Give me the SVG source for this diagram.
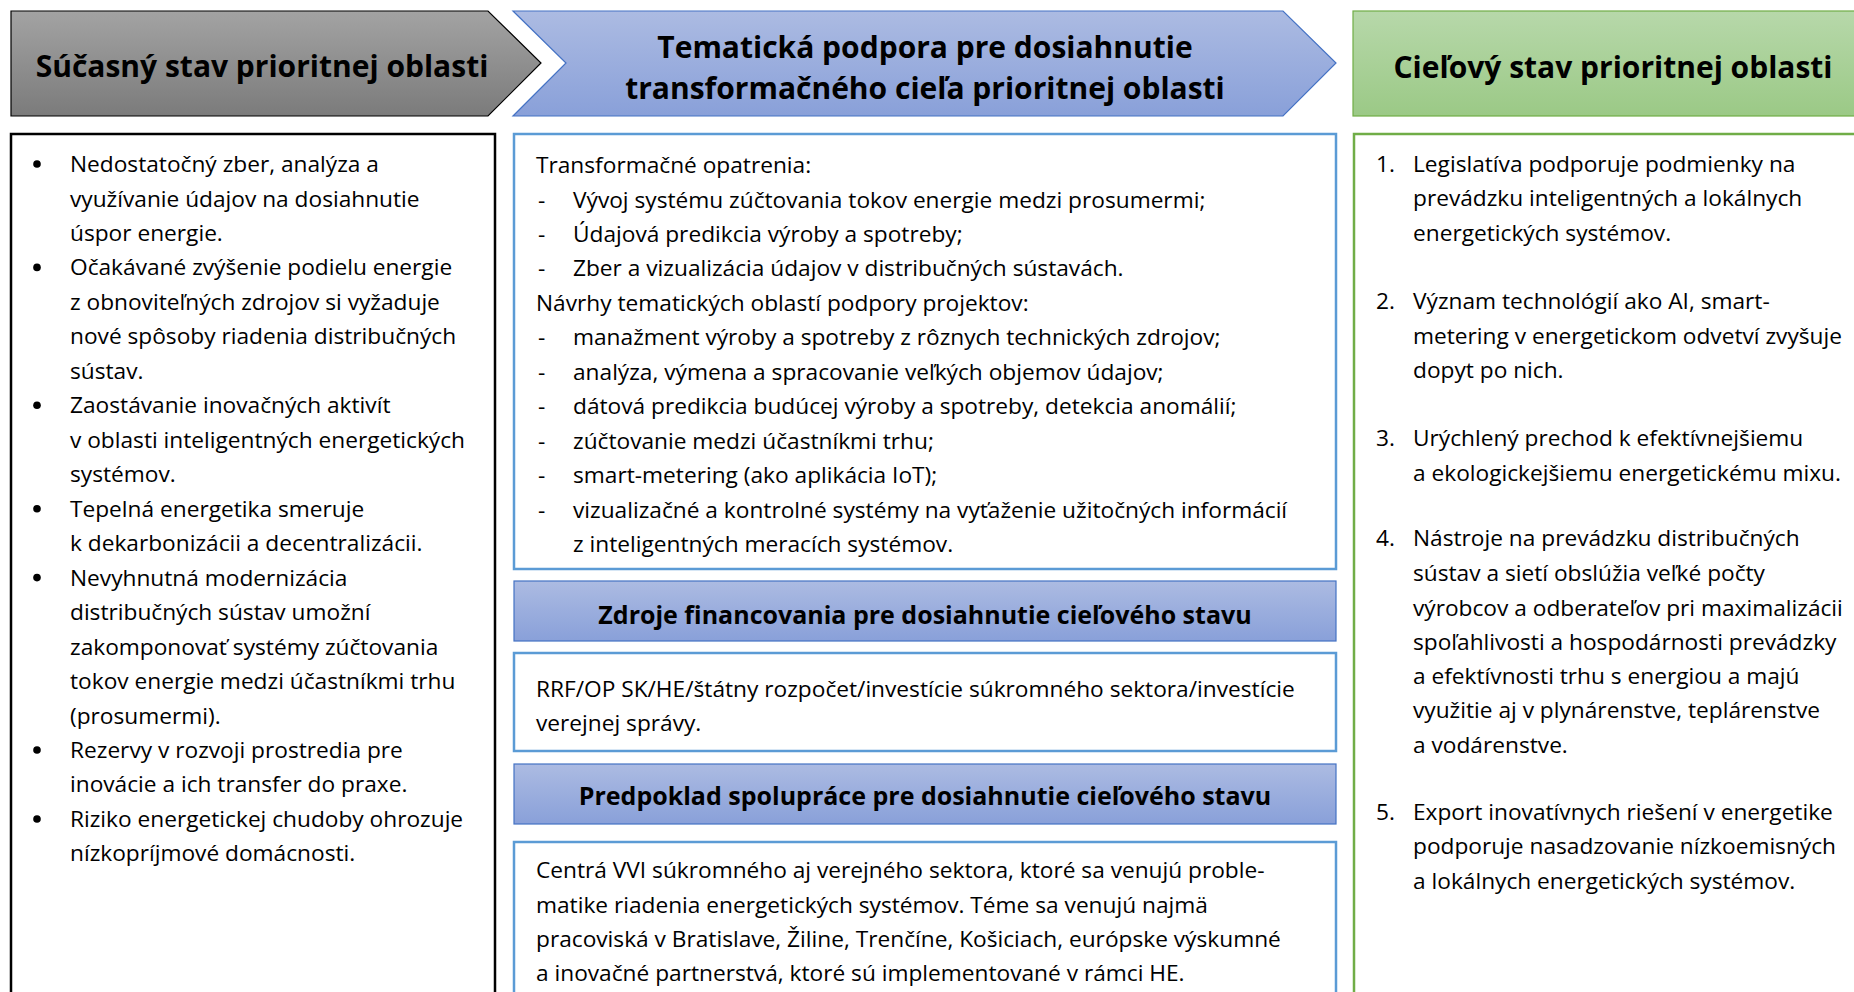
<svg xmlns="http://www.w3.org/2000/svg" width="1854" height="992" viewBox="0 0 1854 992">
<defs>
<linearGradient id="gGray" x1="0" y1="0" x2="0" y2="1"><stop offset="0" stop-color="#a3a3a3"/><stop offset="1" stop-color="#7b7b7b"/></linearGradient>
<linearGradient id="gBlue" x1="0" y1="0" x2="0" y2="1"><stop offset="0" stop-color="#acbbe2"/><stop offset="1" stop-color="#89a0d9"/></linearGradient>
<linearGradient id="gGreen" x1="0" y1="0" x2="0" y2="1"><stop offset="0" stop-color="#b7d8aa"/><stop offset="1" stop-color="#9bc986"/></linearGradient>
<style>
.t{font-family:"Open Sans","Noto Sans","Liberation Sans",sans-serif;font-size:22.7px;fill:#000}
.h{font-family:"Open Sans","Noto Sans","Liberation Sans",sans-serif;font-weight:bold;fill:#000;text-anchor:middle}
.box{fill:#fff;stroke-width:2.5}
</style>
</defs>
<rect width="1854" height="992" fill="#fff"/>

<g id="head-current">
<path d="M11,11 H488 L541,63 L488,116 H11 Z" fill="url(#gGray)" stroke="#000" stroke-width="1.2"/>
<text class="h" x="262" y="76.5" font-size="30">Súčasný stav prioritnej oblasti</text>
</g>

<g id="head-support">
<path d="M513,11 H1283 L1336,63 L1283,116 H513 L566,63 Z" fill="url(#gBlue)" stroke="#4472c4" stroke-width="1.2"/>
<text class="h" x="925" y="57.5" font-size="30">Tematická podpora pre dosiahnutie</text>
<text class="h" x="925" y="98.5" font-size="30">transformačného cieľa prioritnej oblasti</text>
</g>

<g id="head-target">
<rect x="1353" y="11" width="520" height="105" fill="url(#gGreen)" stroke="#70ad47" stroke-width="1.2"/>
<text class="h" x="1613" y="77.5" font-size="30">Cieľový stav prioritnej oblasti</text>
</g>

<g id="box-current">
<rect class="box" x="11" y="134" width="484" height="880" stroke="#000"/>
<g fill="#000">
<circle cx="37" cy="164" r="3.8"/><circle cx="37" cy="267.4" r="3.8"/><circle cx="37" cy="405.3" r="3.8"/><circle cx="37" cy="508.7" r="3.8"/><circle cx="37" cy="577.6" r="3.8"/><circle cx="37" cy="750" r="3.8"/><circle cx="37" cy="819" r="3.8"/>
</g>
<text class="t" x="70" y="172">Nedostatočný zber, analýza a</text>
<text class="t" x="70" y="206.5">využívanie údajov na dosiahnutie</text>
<text class="t" x="70" y="240.9">úspor energie.</text>
<text class="t" x="70" y="275.4">Očakávané zvýšenie podielu energie</text>
<text class="t" x="70" y="309.9">z obnoviteľných zdrojov si vyžaduje</text>
<text class="t" x="70" y="344.4">nové spôsoby riadenia distribučných</text>
<text class="t" x="70" y="378.8">sústav.</text>
<text class="t" x="70" y="413.3">Zaostávanie inovačných aktivít</text>
<text class="t" x="70" y="447.8">v oblasti inteligentných energetických</text>
<text class="t" x="70" y="482.2">systémov.</text>
<text class="t" x="70" y="516.7">Tepelná energetika smeruje</text>
<text class="t" x="70" y="551.2">k dekarbonizácii a decentralizácii.</text>
<text class="t" x="70" y="585.6">Nevyhnutná modernizácia</text>
<text class="t" x="70" y="620.1">distribučných sústav umožní</text>
<text class="t" x="70" y="654.6">zakomponovať systémy zúčtovania</text>
<text class="t" x="70" y="689">tokov energie medzi účastníkmi trhu</text>
<text class="t" x="70" y="723.5">(prosumermi).</text>
<text class="t" x="70" y="758">Rezervy v rozvoji prostredia pre</text>
<text class="t" x="70" y="792.4">inovácie a ich transfer do praxe.</text>
<text class="t" x="70" y="826.9">Riziko energetickej chudoby ohrozuje</text>
<text class="t" x="70" y="861.4">nízkopríjmové domácnosti.</text>
</g>

<g id="box-measures">
<rect class="box" x="514" y="134" width="822" height="435" stroke="#5b9bd5"/>
<text class="t" x="536" y="173">Transformačné opatrenia:</text>
<text class="t" x="538" y="207.5">-</text><text class="t" x="573" y="207.5">Vývoj systému zúčtovania tokov energie medzi prosumermi;</text>
<text class="t" x="538" y="242">-</text><text class="t" x="573" y="242">Údajová predikcia výroby a spotreby;</text>
<text class="t" x="538" y="276.4">-</text><text class="t" x="573" y="276.4">Zber a vizualizácia údajov v distribučných sústavách.</text>
<text class="t" x="536" y="310.9">Návrhy tematických oblastí podpory projektov:</text>
<text class="t" x="538" y="345.4">-</text><text class="t" x="573" y="345.4">manažment výroby a spotreby z rôznych technických zdrojov;</text>
<text class="t" x="538" y="379.8">-</text><text class="t" x="573" y="379.8">analýza, výmena a spracovanie veľkých objemov údajov;</text>
<text class="t" x="538" y="414.3">-</text><text class="t" x="573" y="414.3">dátová predikcia budúcej výroby a spotreby, detekcia anomálií;</text>
<text class="t" x="538" y="448.8">-</text><text class="t" x="573" y="448.8">zúčtovanie medzi účastníkmi trhu;</text>
<text class="t" x="538" y="483.2">-</text><text class="t" x="573" y="483.2">smart-metering (ako aplikácia IoT);</text>
<text class="t" x="538" y="517.7">-</text><text class="t" x="573" y="517.7">vizualizačné a kontrolné systémy na vyťaženie užitočných informácií</text>
<text class="t" x="573" y="552.2">z inteligentných meracích systémov.</text>
</g>

<g id="head-funding">
<rect x="514" y="581" width="822" height="60" fill="url(#gBlue)" stroke="#4472c4" stroke-width="1.2"/>
<text class="h" x="925" y="624" font-size="25">Zdroje financovania pre dosiahnutie cieľového stavu</text>
</g>

<g id="box-funding">
<rect class="box" x="514" y="653" width="822" height="98" stroke="#5b9bd5"/>
<text class="t" x="536" y="697">RRF/OP SK/HE/štátny rozpočet/investície súkromného sektora/investície</text>
<text class="t" x="536" y="731">verejnej správy.</text>
</g>

<g id="head-cooperation">
<rect x="514" y="764" width="822" height="60" fill="url(#gBlue)" stroke="#4472c4" stroke-width="1.2"/>
<text class="h" x="925" y="805" font-size="25">Predpoklad spolupráce pre dosiahnutie cieľového stavu</text>
</g>

<g id="box-cooperation">
<rect class="box" x="514" y="842" width="822" height="180" stroke="#5b9bd5"/>
<text class="t" x="536" y="878">Centrá VVI súkromného aj verejného sektora, ktoré sa venujú proble-</text>
<text class="t" x="536" y="912.5">matike riadenia energetických systémov. Téme sa venujú najmä</text>
<text class="t" x="536" y="947">pracoviská v Bratislave, Žiline, Trenčíne, Košiciach, európske výskumné</text>
<text class="t" x="536" y="981">a inovačné partnerstvá, ktoré sú implementované v rámci HE.</text>
</g>

<g id="box-target">
<rect class="box" x="1354" y="134" width="520" height="880" stroke="#70ad47"/>
<text class="t" x="1376" y="172">1.</text><text class="t" x="1413" y="172">Legislatíva podporuje podmienky na</text>
<text class="t" x="1413" y="206">prevádzku inteligentných a lokálnych</text>
<text class="t" x="1413" y="241">energetických systémov.</text>
<text class="t" x="1376" y="309">2.</text><text class="t" x="1413" y="309">Význam technológií ako AI, smart-</text>
<text class="t" x="1413" y="344">metering v energetickom odvetví zvyšuje</text>
<text class="t" x="1413" y="378">dopyt po nich.</text>
<text class="t" x="1376" y="446">3.</text><text class="t" x="1413" y="446">Urýchlený prechod k efektívnejšiemu</text>
<text class="t" x="1413" y="481">a ekologickejšiemu energetickému mixu.</text>
<text class="t" x="1376" y="546">4.</text><text class="t" x="1413" y="546">Nástroje na prevádzku distribučných</text>
<text class="t" x="1413" y="581">sústav a sietí obslúžia veľké počty</text>
<text class="t" x="1413" y="616">výrobcov a odberateľov pri maximalizácii</text>
<text class="t" x="1413" y="650">spoľahlivosti a hospodárnosti prevádzky</text>
<text class="t" x="1413" y="684">a efektívnosti trhu s energiou a majú</text>
<text class="t" x="1413" y="718">využitie aj v plynárenstve, teplárenstve</text>
<text class="t" x="1413" y="753">a vodárenstve.</text>
<text class="t" x="1376" y="820">5.</text><text class="t" x="1413" y="820">Export inovatívnych riešení v energetike</text>
<text class="t" x="1413" y="854">podporuje nasadzovanie nízkoemisných</text>
<text class="t" x="1413" y="889">a lokálnych energetických systémov.</text>
</g>
</svg>
